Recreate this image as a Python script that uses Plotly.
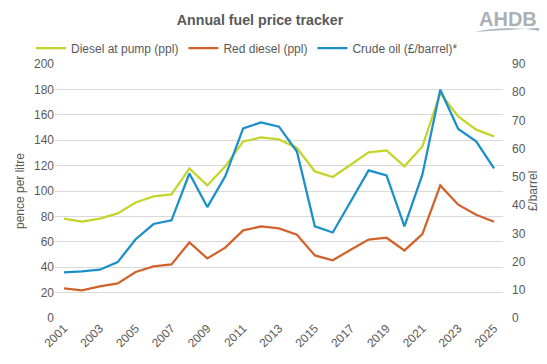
import plotly.graph_objects as go

years = list(range(2001, 2026))
diesel_pump = [78.2, 75.8, 78.2, 82.4, 91.0, 95.8, 97.3, 117.8, 104.4, 119.4, 139.0, 142.2, 140.6,
               133.9, 115.4, 111.0, 120.7, 130.4, 132.0, 119.4, 135.1, 177.0, 158.7, 148.3, 143.0]
red_diesel = [23.3, 21.7, 24.9, 27.2, 36.2, 40.6, 42.2, 59.5, 46.9, 55.4, 69.0, 72.1, 70.6,
              65.6, 49.3, 45.4, 53.8, 61.7, 63.2, 53.2, 66.1, 104.4, 89.2, 81.3, 75.8]
crude_oil = [16.2, 16.5, 17.1, 19.8, 27.9, 33.3, 34.6, 51.2, 39.3, 50.2, 67.2, 69.3, 67.8,
             59.0, 32.5, 30.3, 41.3, 52.3, 50.5, 32.5, 50.8, 80.9, 67.0, 62.6, 53.0]
tick_years = list(range(2001, 2026, 2))

font = "Liberation Sans, Arial, sans-serif"
grey = "#595959"
OFF = 8  # page body margin
W, H = 547 - OFF, 364 - OFF
L, T = 55 - OFF, 64 - OFF
R = W - (503 - OFF)
B = H - (318 - OFF)
PW, PH = W - L - R, H - T - B


def px(x):  # reference page pixel -> paper x
    return (x - OFF - L) / PW


def py(y):  # reference page pixel -> paper y
    return (H - B - (y - OFF)) / PH


fig = go.Figure()
fig.add_trace(go.Scatter(x=years, y=diesel_pump, name="Diesel at pump (ppl)", mode="lines",
                         line=dict(color="#C5D42B", width=2.25)))
fig.add_trace(go.Scatter(x=years, y=red_diesel, name="Red diesel (ppl)", mode="lines",
                         line=dict(color="#D1622B", width=2.25)))
fig.add_trace(go.Scatter(x=years, y=crude_oil, name="Crude oil (£/barrel)*", mode="lines",
                         line=dict(color="#1A8FC8", width=2.25), yaxis="y2"))

fig.update_layout(
    width=W, height=H,
    margin=dict(l=L, r=R, t=T, b=B, autoexpand=False),
    paper_bgcolor="white", plot_bgcolor="white",
    font=dict(family=font, size=12, color=grey),
    title=dict(text="<b>Annual fuel price tracker</b>", x=(260 - OFF) / W, xanchor="center",
               yref="container", y=1 - (20 - OFF) / H, yanchor="middle",
               font=dict(size=14.2, color=grey)),
    showlegend=True,
    legend=dict(orientation="h", x=(247 - OFF) / W, xanchor="center", xref="container",
                yref="container", y=1 - (48 - OFF) / H,
                yanchor="middle", font=dict(size=12, color=grey), itemwidth=30, tracegroupgap=0,
                bgcolor="rgba(0,0,0,0)"),
    xaxis=dict(range=[2000.5, 2025.5], tickmode="array", tickvals=tick_years,
               ticktext=[str(y) for y in tick_years], tickangle=-45, showgrid=False,
               zeroline=False, showline=False, ticks="", automargin=False,
               tickfont=dict(size=12, color=grey)),
    yaxis=dict(range=[0, 200], dtick=20, showgrid=True, gridcolor="#D9D9D9", gridwidth=1,
               zeroline=False, showline=False, ticks="", automargin=False,
               title=dict(text="pence per litre", font=dict(size=12, color=grey), standoff=6),
               tickfont=dict(size=12, color=grey)),
    yaxis2=dict(range=[0, 90], dtick=10, overlaying="y", side="right", showgrid=False,
                zeroline=False, showline=False, ticks="", automargin=False,
                ticklabelstandoff=8,
                title=dict(text="£/barrel", font=dict(size=12, color=grey), standoff=0),
                tickfont=dict(size=12, color=grey)),
)

# AHDB logo (text + swoosh)
fig.add_annotation(text="<b>AHDB</b>", xref="paper", yref="paper", x=px(508), y=py(19),
                   showarrow=False, xanchor="center", yanchor="middle",
                   font=dict(family=font, size=20, color="#AAB1B6"))
sw = ("M {a},{b} Q {c},{d} {e},{f} L {e},{g} Q {c},{h} {a},{b} Z").format(
    a=px(475), b=py(32), c=px(505), d=py(25), e=px(541), f=py(31), g=py(28), h=py(30))
fig.add_shape(type="path", xref="paper", yref="paper", path=sw,
              fillcolor="#AAB1B6", line=dict(width=0))

fig.write_html("out.html")
